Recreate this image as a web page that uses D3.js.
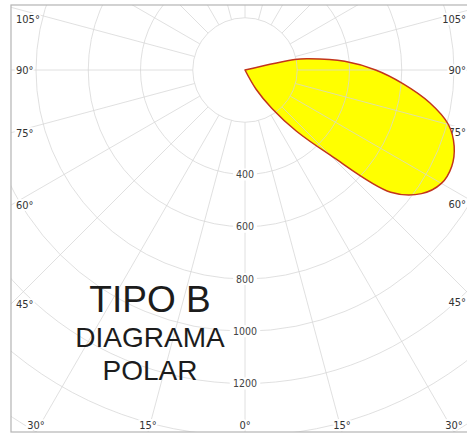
<!DOCTYPE html>
<html>
<head>
<meta charset="utf-8">
<script src="https://cdn.jsdelivr.net/npm/d3@7"></script>
<style>
body{margin:0;background:#fff;}
</style>
</head>
<body>
<svg></svg>
<script>
// intensity curve (angle from nadir, degrees -> value)
var angles = [25, 30, 35, 40, 45, 50, 55, 60, 65, 70, 75, 80, 85, 90, 95, 100, 102, 105];
var values = [0, 85, 180, 305, 460, 728, 825, 868, 873, 852, 806, 717, 608, 500, 383, 248, 195, 0];

var ringValues = [200, 400, 600, 800, 1000, 1200, 1400, 1600, 1800];
var radiusLabels = ['400', '600', '800', '1000', '1200'];
var angleLabels = [0, 15, 30, 45, 60, 75, 90, 105];
var spokes = [0, 15, 30, 45, 60, 75, 90, 105, 120, 135, 150, 165, 180, 195, 210, 225, 240, 255, 270, 285, 300, 315, 330, 345];

var titleLines = ['TIPO B', 'DIAGRAMA', 'POLAR'];

var w = 467;
var h = 434;
var cx = 245, cy = 70;
var L = 11, T = 5, R = 477, B = 432;

var svg = d3.select('svg')
    .attr('width', w)
    .attr('height', h);

var r = d3.scaleLinear().domain([0, 1200]).range([0, 313.5]);
var rad = function(deg){ return deg * Math.PI / 180 };

var curve = d3.lineRadial()
    .angle(function(d){ return Math.PI - rad(d[0]) })
    .radius(function(d){ return r(d[1]) })
    .curve(d3.curveCatmullRom);

var pts = angles.map(function(a, i){ return [a, values[i]] });
var lobe = curve(pts) + 'Z';

var defs = svg.append('defs');
defs.append('clipPath')
    .attr('id', 'frame')
    .append('rect')
    .attr('x', L).attr('y', T)
    .attr('width', R - L).attr('height', B - T);
defs.append('clipPath')
    .attr('id', 'lobe')
    .append('path')
    .attr('transform', 'translate(' + cx + ',' + cy + ')')
    .attr('d', lobe);

var g = svg.append('g').attr('clip-path', 'url(#frame)');

function drawGrid(parent){
    var p = parent.append('g').attr('transform', 'translate(' + cx + ',' + cy + ')');
    p.selectAll('circle')
        .data(ringValues)
        .enter()
        .append('circle')
        .attr('r', function(d){ return r(d) })
        .attr('fill', 'none')
        .attr('stroke', '#d6d6d6')
        .attr('stroke-opacity', 0.75);
    p.selectAll('line')
        .data(spokes)
        .enter()
        .append('line')
        .attr('x1', function(d){ return r(200) * Math.sin(rad(d)) })
        .attr('y1', function(d){ return r(200) * Math.cos(rad(d)) })
        .attr('x2', function(d){ return r(2400) * Math.sin(rad(d)) })
        .attr('y2', function(d){ return r(2400) * Math.cos(rad(d)) })
        .attr('stroke', '#d6d6d6')
        .attr('stroke-opacity', 0.75);
}

drawGrid(g);

// radius labels on the 0 deg spoke
var rl = g.selectAll('g.rlab')
    .data(radiusLabels)
    .enter()
    .append('g')
    .attr('transform', function(d){ return 'translate(' + cx + ',' + (cy + r(+d)) + ')' });
rl.append('rect')
    .attr('x', function(d){ return -d.length * 3.3 - 2 })
    .attr('y', -6)
    .attr('width', function(d){ return d.length * 6.6 + 4 })
    .attr('height', 12)
    .attr('fill', '#fff');
rl.append('text')
    .attr('text-anchor', 'middle')
    .attr('dy', '0.35em')
    .attr('font-family', 'DejaVu Sans Condensed, DejaVu Sans')
    .attr('font-size', 10.5)
    .attr('fill', '#444')
    .text(function(d){ return d });

// angle labels where spokes meet the frame
var angleSpots = [];
angleLabels.forEach(function(a){
    var sides = a === 0 ? [1] : [-1, 1];
    sides.forEach(function(s){
        var dx = s * Math.sin(rad(a)), dy = Math.cos(rad(a));
        var tx = dx < 0 ? (L - cx) / dx : (R - cx) / dx;
        var ty = dy > 0 ? (B - cy) / dy : (T - cy) / dy;
        if (Math.abs(dx) < 1e-9) tx = Infinity;
        if (Math.abs(dy) < 1e-9) ty = Infinity;
        if (tx < ty) {
            angleSpots.push({a: a, side: s, edge: 'side', x: s < 0 ? L + 5 : w - 1,
                y: Math.max(T + 14, Math.min(B - 14, cy + tx * dy))});
        } else {
            angleSpots.push({a: a, side: s, edge: 'bottom', x: cx + ty * dx, y: B - 7});
        }
    });
});

var al = svg.selectAll('g.alab')
    .data(angleSpots)
    .enter()
    .append('g')
    .attr('transform', function(d){ return 'translate(' + d.x + ',' + d.y + ')' });
al.append('text')
    .attr('text-anchor', function(d){
        if (d.edge === 'bottom') return 'middle';
        return d.side < 0 ? 'start' : 'end';
    })
    .attr('dy', '0.35em')
    .attr('font-family', 'DejaVu Sans Condensed, DejaVu Sans')
    .attr('font-size', 11)
    .attr('fill', '#333')
    .attr('stroke', '#fff')
    .attr('stroke-width', 4)
    .attr('paint-order', 'stroke')
    .text(function(d){ return d.a + '\u00b0' });

// yellow lobe, grid showing through, outline
svg.append('path')
    .attr('transform', 'translate(' + cx + ',' + cy + ')')
    .attr('d', lobe)
    .attr('fill', '#ffff00');

drawGrid(svg.append('g').attr('clip-path', 'url(#lobe)'));

svg.append('path')
    .attr('transform', 'translate(' + cx + ',' + cy + ')')
    .attr('d', lobe)
    .attr('fill', 'none')
    .attr('stroke', '#c2341c')
    .attr('stroke-width', 1.5)
    .attr('stroke-linejoin', 'round');

// frame
svg.append('rect')
    .attr('x', L).attr('y', T)
    .attr('width', R - L).attr('height', B - T)
    .attr('fill', 'none')
    .attr('stroke', '#b4b4b4')
    .attr('stroke-width', 1.2);

// title
var sizes = [37, 28, 28];
var baselines = [312, 347, 380];
svg.selectAll('text.title')
    .data(titleLines)
    .enter()
    .append('text')
    .attr('x', 150)
    .attr('y', function(d, i){ return baselines[i] })
    .attr('text-anchor', 'middle')
    .attr('font-family', 'Liberation Sans, Arial, sans-serif')
    .attr('font-size', function(d, i){ return sizes[i] })
    .attr('fill', '#1c1c1c')
    .text(function(d){ return d });
</script>
</body>
</html>
